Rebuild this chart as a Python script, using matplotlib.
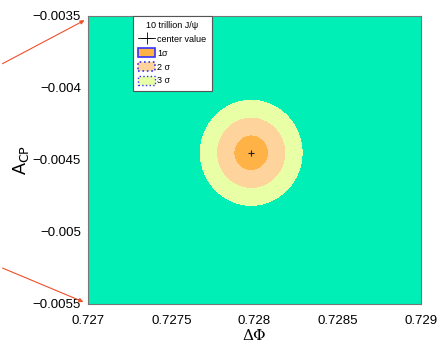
import matplotlib.pyplot as plt
import numpy as np
from matplotlib.patches import Patch
from matplotlib.lines import Line2D

plt.rcParams['font.family'] = ['Liberation Sans', 'DejaVu Sans']

# fit result (center value and 1 sigma widths)
center_dphi = 0.72798
center_acp = -0.00445
sigma_dphi = 0.000104
sigma_acp = 0.000124
levels = [0, 1, 4, 9, 1e9]
level_labels = ['1σ', '2 σ', '3 σ']
colors = ['#FFB347', '#FFD39C', '#E8FFA6', '#00EFB6']

x = np.linspace(0.727, 0.729, 600)
y = np.linspace(-0.0055, -0.0035, 600)
X, Y = np.meshgrid(x, y)
chi2 = ((X - center_dphi) / sigma_dphi) ** 2 + ((Y - center_acp) / sigma_acp) ** 2

fig = plt.figure(figsize=(4.37, 3.46), dpi=100)
ax = fig.add_axes([88 / 437, 1 - 304 / 346, 333 / 437, 288 / 346])
ax.contourf(X, Y, chi2, levels=levels, colors=colors)
ax.plot(center_dphi, center_acp, marker='+', color='#222222', markersize=5, mew=0.8)

ax.set_xlim(0.727, 0.729)
ax.set_ylim(-0.0055, -0.0035)
ax.set_xticks([0.727, 0.7275, 0.728, 0.7285, 0.729])
ax.set_xticklabels(['0.727', '0.7275', '0.728', '0.7285', '0.729'])
ax.set_yticks([-0.0055, -0.005, -0.0045, -0.004, -0.0035])
ax.set_yticklabels(['−0.0055', '−0.005', '−0.0045', '−0.004', '−0.0035'])
ax.tick_params(axis='x', length=0, labelsize=9.5, pad=8)
ax.tick_params(axis='y', length=0, labelsize=9.5, pad=5)
for s in ax.spines.values():
    s.set_color('#777777')
    s.set_linewidth(0.8)

ax.set_xlabel('ΔΦ', fontsize=11, family=['DejaVu Serif'], labelpad=1)
ax.set_ylabel('A$_{\\mathrm{CP}}$', fontsize=13, labelpad=1)

handles = [
    Line2D([], [], color='black', marker='+', linestyle='-', lw=0.6, markersize=9, mew=0.6),
    Patch(facecolor=colors[0], edgecolor='#3333FF', lw=1.2),
    Patch(facecolor=colors[1], edgecolor='#3333FF', lw=1.2, linestyle=':'),
    Patch(facecolor=colors[2], edgecolor='#3333FF', lw=1.0, linestyle=':'),
]
leg = ax.legend(handles, ['center value'] + level_labels, title='10 trillion J/ψ',
                loc='upper left', bbox_to_anchor=(45 / 333, 1.0), borderaxespad=0,
                fontsize=6.5, title_fontsize=6.5, fancybox=False, framealpha=1,
                edgecolor='#555555', handlelength=1.8, handleheight=1.2,
                borderpad=0.6, labelspacing=0.45, handletextpad=0.3)
leg.get_frame().set_linewidth(0.8)

# red arrows pointing at the axis range
ax.annotate('', xy=(87 / 437, 1 - 19 / 346), xytext=(0, 1 - 65 / 346),
            xycoords='figure fraction', textcoords='figure fraction',
            arrowprops=dict(arrowstyle='-|>', color='#F0502A', lw=0.8, mutation_scale=6))
ax.annotate('', xy=(86 / 437, 1 - 303 / 346), xytext=(0, 1 - 267 / 346),
            xycoords='figure fraction', textcoords='figure fraction',
            arrowprops=dict(arrowstyle='-|>', color='#F0502A', lw=0.8, mutation_scale=6))

fig.savefig('out.png', dpi=100)
